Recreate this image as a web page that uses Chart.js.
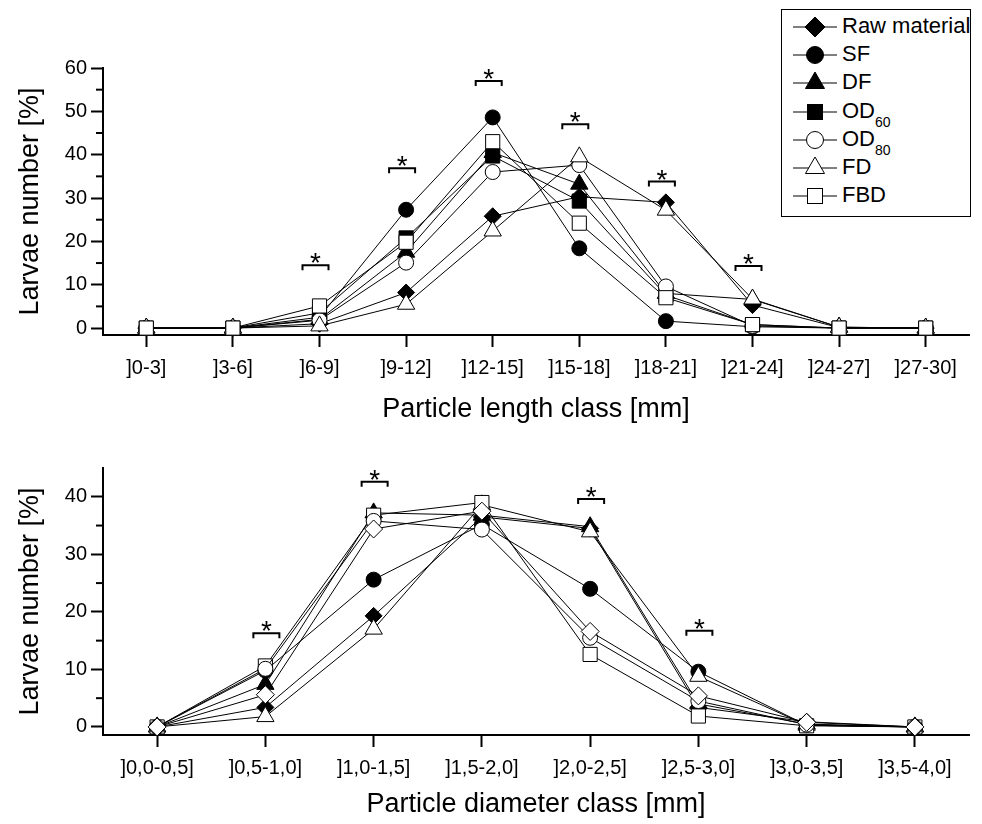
<!DOCTYPE html>
<html>
<head>
<meta charset="utf-8">
<script src="https://cdn.jsdelivr.net/npm/chart.js@4.4.0/dist/chart.umd.min.js"></script>
<style>
  body { margin: 0; background: #fff; width: 982px; height: 824px; position: relative; overflow: hidden; }
  canvas { position: absolute; left: 0; }
  #topChart { top: 0; }
  #bottomChart { top: 440px; }
  #legend {
    position: absolute; left: 781px; top: 9px; width: 190px; height: 208px;
    border: 1.5px solid #000; background: #fff; box-sizing: border-box;
    font: 22px 'Liberation Sans', Arial, sans-serif; color: #000;
  }
  .row { position: absolute; left: 0; height: 28px; width: 100%; }
  .row svg { position: absolute; left: 11px; top: 2px; }
  .row span { position: absolute; left: 60px; top: 1px; line-height: 24px; white-space: nowrap; }
  .row sub { font-size: 14px; vertical-align: -9px; line-height: 0; }
</style>
</head>
<body>
<canvas id="topChart" width="982" height="440"></canvas>
<canvas id="bottomChart" width="982" height="384"></canvas>
<div id="legend"></div>
<script>
// series and categories
const seriesNames = ['Raw material', 'SF', 'DF', 'OD60', 'OD80', 'FD', 'FBD'];

const lengthClasses = [']0-3]', ']3-6]', ']6-9]', ']9-12]', ']12-15]', ']15-18]', ']18-21]', ']21-24]', ']24-27]', ']27-30]'];
const lengthYTicks = [0, 10, 20, 30, 40, 50, 60];
const lengthRaw  = [0, 0, 1.0, 8.2, 25.8, 30.3, 29.0, 5.3, 0.1, 0];
const lengthSF   = [0, 0, 2.5, 27.3, 48.6, 18.4, 1.6, 0.3, 0, 0];
const lengthDF   = [0, 0, 2.0, 17.5, 40.5, 33.2, 8.0, 6.6, 0.2, 0];
const lengthOD60 = [0, 0, 3.5, 20.8, 39.7, 29.3, 7.6, 0.8, 0, 0];
const lengthOD80 = [0, 0, 1.8, 15.1, 36.0, 37.6, 9.6, 0.5, 0, 0];
const lengthFD   = [0, 0, 0.5, 5.5, 22.4, 39.5, 27.2, 6.7, 0.2, 0];
const lengthFBD  = [0, 0, 5.1, 19.8, 43.0, 24.2, 7.0, 0.8, 0, 0];
const lengthStarIdx = [2, 3, 4, 5, 6, 7];
const lengthStarY   = [14.5, 36.9, 57.0, 47.0, 33.8, 14.3];

const diameterClasses = [']0,0-0,5]', ']0,5-1,0]', ']1,0-1,5]', ']1,5-2,0]', ']2,0-2,5]', ']2,5-3,0]', ']3,0-3,5]', ']3,5-4,0]'];
const diameterYTicks = [0, 10, 20, 30, 40];
const diamRaw  = [0, 3.4, 19.3, 36.5, 34.5, 3.4, 0.9, 0];
const diamSF   = [0, 9.8, 25.6, 35.2, 24.0, 9.6, 0.3, 0];
const diamDF   = [0, 7.4, 37.2, 36.8, 34.8, 4.0, 0.5, 0];
const diamOD60 = [0, 5.6, 34.4, 37.5, 16.6, 5.4, 0.8, 0];
const diamOD80 = [0, 10.1, 35.8, 34.3, 15.5, 4.5, 0.4, 0];
const diamFD   = [0, 1.8, 17.0, 38.6, 33.9, 8.8, 0.3, 0];
const diamFBD  = [0, 10.6, 36.8, 39.0, 12.6, 1.9, 0.2, 0];
const diamStarIdx = [1, 2, 4, 5];
const diamStarY   = [16.3, 42.6, 39.6, 16.7];

// marker look per series
const markers = [
  { style: 'rectRot', fill: '#000', r: 8.5 },
  { style: 'circle', fill: '#000', r: 7.5 },
  { style: 'triangle', fill: '#000', r: 10 },
  { style: 'rect', fill: '#000', r: 10 },
  { style: 'circle', fill: '#fff', r: 7.5 },
  { style: 'triangle', fill: '#fff', r: 10 },
  { style: 'rect', fill: '#fff', r: 10 }
];
// the lower plot shows OD60 as an open diamond
const markersBottom = markers.slice();
markersBottom[3] = { style: 'rectRot', fill: '#fff', r: 9 };

// draw order (higher = drawn earlier)
const orderTop = [7, 6, 5, 4, 3, 2, 1];
const orderBottom = [7, 6, 5, 1, 2, 4, 3];

Chart.defaults.font.family = "'Liberation Sans', Arial, sans-serif";
Chart.defaults.color = '#000';

function makeDatasets(seriesData, marks, order) {
  return seriesData.map((d, i) => ({
    label: seriesNames[i],
    data: d,
    borderColor: '#000',
    borderWidth: 1,
    tension: 0,
    pointStyle: marks[i].style,
    pointRadius: marks[i].r,
    pointBackgroundColor: marks[i].fill,
    pointBorderColor: '#000',
    pointBorderWidth: 1,
    order: order[i],
    clip: false
  }));
}

// short ticks halfway between the labelled ones
function minorTicks(step) {
  return {
    id: 'minorTicks',
    afterDraw(chart) {
      const y = chart.scales.y, ctx = chart.ctx;
      ctx.save();
      ctx.strokeStyle = '#000';
      ctx.lineWidth = 2;
      for (let v = step; v < y.max; v += step * 2) {
        const py = y.getPixelForValue(v);
        ctx.beginPath();
        ctx.moveTo(y.right, py);
        ctx.lineTo(y.right - 7, py);
        ctx.stroke();
      }
      ctx.restore();
    }
  };
}

// significance brackets with an asterisk
function sigBrackets(idx, vals, shift) {
  return {
    id: 'sigBrackets',
    afterDatasetsDraw(chart) {
      const { x, y } = chart.scales, ctx = chart.ctx;
      ctx.save();
      ctx.strokeStyle = '#000';
      ctx.fillStyle = '#000';
      ctx.lineWidth = 2;
      ctx.font = "28px 'Liberation Sans', Arial, sans-serif";
      ctx.textAlign = 'center';
      ctx.textBaseline = 'alphabetic';
      idx.forEach((ix, k) => {
        const cx = x.getPixelForValue(ix) + shift;
        const cy = y.getPixelForValue(vals[k]);
        ctx.beginPath();
        ctx.moveTo(cx - 13, cy + 5);
        ctx.lineTo(cx - 13, cy);
        ctx.lineTo(cx + 13, cy);
        ctx.lineTo(cx + 13, cy + 5);
        ctx.stroke();
        ctx.fillText('*', cx, cy + 7);
      });
      ctx.restore();
    }
  };
}

function makeChart(el, labels, datasets, yTicks, yMin, yMax, xTitle, pad, xHeight, titlePad, plugins) {
  return new Chart(document.getElementById(el), {
    type: 'line',
    data: { labels: labels, datasets: datasets },
    options: {
      responsive: false,
      animation: false,
      layout: { padding: { top: pad, right: 13, left: 0, bottom: 0 } },
      plugins: { legend: { display: false }, tooltip: { enabled: false } },
      scales: {
        x: {
          type: 'category',
          offset: true,
          grid: { offset: false, drawOnChartArea: false, drawTicks: true, tickLength: 12, tickWidth: 2, tickColor: '#000' },
          border: { display: true, color: '#000', width: 2 },
          ticks: { autoSkip: false, maxRotation: 0, padding: 9, font: { size: 20 } },
          title: { display: true, text: xTitle, font: { size: 27 }, padding: { top: titlePad, bottom: titlePad } },
          afterFit: s => { s.height = xHeight; }
        },
        y: {
          min: yMin,
          max: yMax,
          afterBuildTicks: s => { s.ticks = yTicks.map(v => ({ value: v })); },
          grid: { drawOnChartArea: false, drawTicks: true, tickLength: 12, tickWidth: 2, tickColor: '#000' },
          border: { display: true, color: '#000', width: 2 },
          ticks: { padding: 4, font: { size: 20 } },
          title: { display: true, text: 'Larvae number [%]', font: { size: 27 }, padding: { top: 14, bottom: 14 } },
          afterFit: s => { s.width = 103; }
        }
      }
    },
    plugins: plugins
  });
}

makeChart('topChart', lengthClasses,
  makeDatasets([lengthRaw, lengthSF, lengthDF, lengthOD60, lengthOD80, lengthFD, lengthFBD], markers, orderTop),
  lengthYTicks, -1.6, 60, 'Particle length class [mm]', 68, 105, 14,
  [minorTicks(5), sigBrackets(lengthStarIdx, lengthStarY, -4)]);

makeChart('bottomChart', diameterClasses,
  makeDatasets([diamRaw, diamSF, diamDF, diamOD60, diamOD80, diamFD, diamFBD], markersBottom, orderBottom),
  diameterYTicks, -1.4, 45, 'Particle diameter class [mm]', 28, 89, 3,
  [minorTicks(5), sigBrackets(diamStarIdx, diamStarY, 1)]);

// legend box
function legendSymbol(m) {
  const cx = 22, cy = 12;
  let shape = '';
  if (m.style === 'rectRot') {
    shape = `<polygon points="${cx - 10},${cy} ${cx},${cy - 10} ${cx + 10},${cy} ${cx},${cy + 10}"/>`;
  } else if (m.style === 'circle') {
    shape = `<circle cx="${cx}" cy="${cy}" r="8.5"/>`;
  } else if (m.style === 'triangle') {
    const r = 11;
    shape = `<polygon points="${cx},${cy - r} ${cx - r * 0.866},${cy + r / 2} ${cx + r * 0.866},${cy + r / 2}"/>`;
  } else {
    shape = `<rect x="${cx - 7.5}" y="${cy - 7.5}" width="15" height="15"/>`;
  }
  return `<svg width="44" height="24"><line x1="0" y1="${cy}" x2="44" y2="${cy}" stroke="#000" stroke-width="1"/>` +
    `<g fill="${m.fill}" stroke="#000" stroke-width="1">${shape}</g></svg>`;
}

const legend = document.getElementById('legend');
seriesNames.forEach((name, i) => {
  const row = document.createElement('div');
  row.className = 'row';
  row.style.top = (3 + i * 28.2) + 'px';
  row.innerHTML = legendSymbol(markers[i]) + '<span>' + name.replace(/(\d+)$/, '<sub>$1</sub>') + '</span>';
  legend.appendChild(row);
});
</script>
</body>
</html>
